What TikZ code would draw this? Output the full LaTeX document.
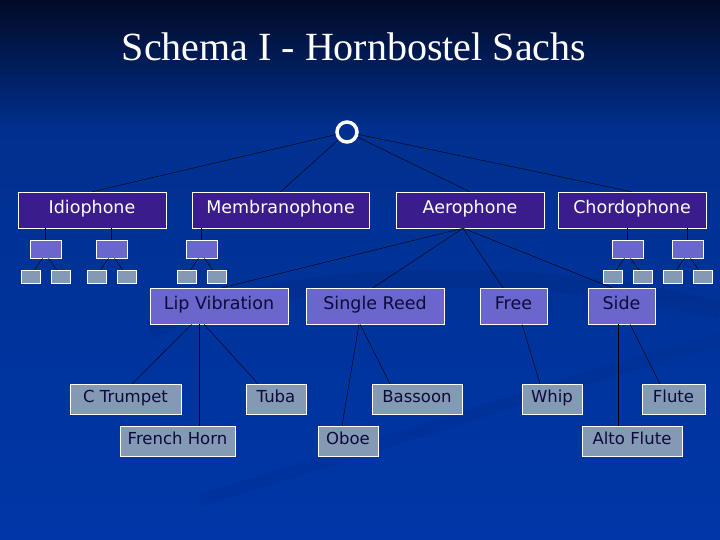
\documentclass[tikz,border=0pt]{standalone}
\usepackage{fontspec}
\setmainfont{Liberation Serif}
\newfontfamily\boxfont{DejaVu Sans}
\usetikzlibrary{positioning}
\definecolor{nightsky}{HTML}{020A26}
\definecolor{deepblue}{HTML}{00308F}
\definecolor{slideblue}{HTML}{0036A8}
\definecolor{violet}{HTML}{3B1C8C}
\definecolor{lilac}{HTML}{6A66CC}
\definecolor{steel}{HTML}{8499B4}
\definecolor{inkblue}{HTML}{0B0B3C}
\tikzset{family/.style={draw=white,fill=violet,minimum width=148pt,minimum height=36pt,text=white,text height=.73em,text depth=.12em,font=\boxfont\fontsize{17.5}{19}\selectfont},
group/.style={draw=white,fill=lilac,minimum height=36pt,text=inkblue,text height=.73em,text depth=.12em,font=\boxfont\fontsize{17.5}{19}\selectfont},
leaf/.style={draw=white,fill=steel,minimum height=30pt,text=inkblue,text height=.73em,text depth=.08em,font=\boxfont\fontsize{16.5}{18}\selectfont},
stub/.style={draw=white,fill=lilac,minimum width=31pt,minimum height=18pt,inner sep=0pt},
twig/.style={draw=white,fill=steel,minimum width=19pt,minimum height=13pt,inner sep=0pt},
link/.style={draw=black,thin}}

\begin{document}
\begin{tikzpicture}[x=1pt,y=-1pt]
\useasboundingbox (0,0) rectangle (720,540);
% background
\shade[top color=nightsky,bottom color=deepblue] (0,0) rectangle (720,130);
\shade[top color=deepblue,bottom color=slideblue] (0,130) rectangle (720,540);
\draw[black,opacity=.05,line width=18pt] (150,330) .. controls (300,260) and (560,270) .. (720,310);
\draw[black,opacity=.04,line width=12pt] (200,500) .. controls (400,440) and (600,370) .. (720,340);
\node[text=white,font=\fontsize{40}{44}\selectfont] (title) at (354,47) {Schema I - Hornbostel Sachs};
% root
\node[circle,draw=white,line width=3.5pt,fill=deepblue,minimum size=20pt,inner sep=0pt] (root) at (347,132) {};
% families
\node[family] (idio) at (92,210) {Idiophone};
\node[family,minimum width=177pt] (memb) at (280.5,210) {Membranophone};
\node[family] (aero) at (470,210) {Aerophone};
\node[family] (chord) at (632,210) {Chordophone};
\foreach \f in {idio,memb,aero,chord}\draw[link] (root)--(\f.north);
% small boxes
\node[stub] (i1) at (45.5,249) {};
\node[stub] (i2) at (111.5,249) {};
\node[stub] (m1) at (201.5,249) {};
\node[stub] (c1) at (627.5,249) {};
\node[stub] (c2) at (687.5,249) {};
\draw[link] (i1.north|-idio.south)--(i1.north); \draw[link] (i2.north|-idio.south)--(i2.north);
\draw[link] (m1.north|-memb.south)--(m1.north);
\draw[link] (c1.north|-chord.south)--(c1.north); \draw[link] (c2.north|-chord.south)--(c2.north);
\foreach \s/\x in {i1/45.5,i2/111.5,m1/201.5,c1/627.5,c2/687.5}{
\node[twig] (\s a) at (\x-15,276.5) {};
\node[twig] (\s b) at (\x+15,276.5) {};
\draw[link] ([xshift=-3pt]\s.south)--([xshift=4pt]\s a.north);
\draw[link] ([xshift=3pt]\s.south)--([xshift=-4pt]\s b.north);}
% aerophone groups
\node[group,minimum width=138pt] (lip) at (219,306) {Lip Vibration};
\node[group,minimum width=138pt] (reed) at (375,306) {Single Reed};
\node[group,minimum width=67pt] (free) at (513.5,306) {Free};
\node[group,minimum width=67pt] (side) at (621.5,306) {Side};
\draw[link] ([xshift=-7pt]aero.south)--([xshift=3pt]lip.north);
\draw[link] ([xshift=-7pt]aero.south)--([xshift=-2pt]reed.north);
\draw[link] ([xshift=-7pt]aero.south)--([xshift=-10.5pt]free.north);
\draw[link] ([xshift=-7pt]aero.south)--([xshift=-9.5pt]side.north);
% instruments
\node[leaf,minimum width=111pt] (trumpet) at (125.5,399) {C Trumpet};
\node[leaf,minimum width=115pt] (horn) at (177.5,441) {French Horn};
\node[leaf,minimum width=60pt] (tuba) at (276,399) {Tuba};
\node[leaf,minimum width=60pt] (oboe) at (348,441) {Oboe};
\node[leaf,minimum width=90pt] (bassoon) at (417,399) {Bassoon};
\node[leaf,minimum width=60pt] (whip) at (552,399) {Whip};
\node[leaf,minimum width=100pt] (alto) at (632,441) {Alto Flute};
\node[leaf,minimum width=63pt] (flute) at (673.5,399) {Flute};
\draw[link] ([xshift=-27pt]lip.south)--([xshift=6.5pt]trumpet.north);
\draw[link] ([xshift=-20pt]lip.south)--([xshift=21.5pt]horn.north);
\draw[link] ([xshift=-15pt]lip.south)--([xshift=-18pt]tuba.north);
\draw[link] ([xshift=-16pt]reed.south)--([xshift=-6pt]oboe.north);
\draw[link] ([xshift=-15pt]reed.south)--([xshift=-27pt]bassoon.north);
\draw[link] ([xshift=8.5pt]free.south)--([xshift=-12pt]whip.north);
\draw[link] ([xshift=-3.5pt]side.south)--([xshift=-14pt]alto.north);
\draw[link] ([xshift=8.5pt]side.south)--([xshift=-13.5pt]flute.north);
\end{tikzpicture}
\end{document}
